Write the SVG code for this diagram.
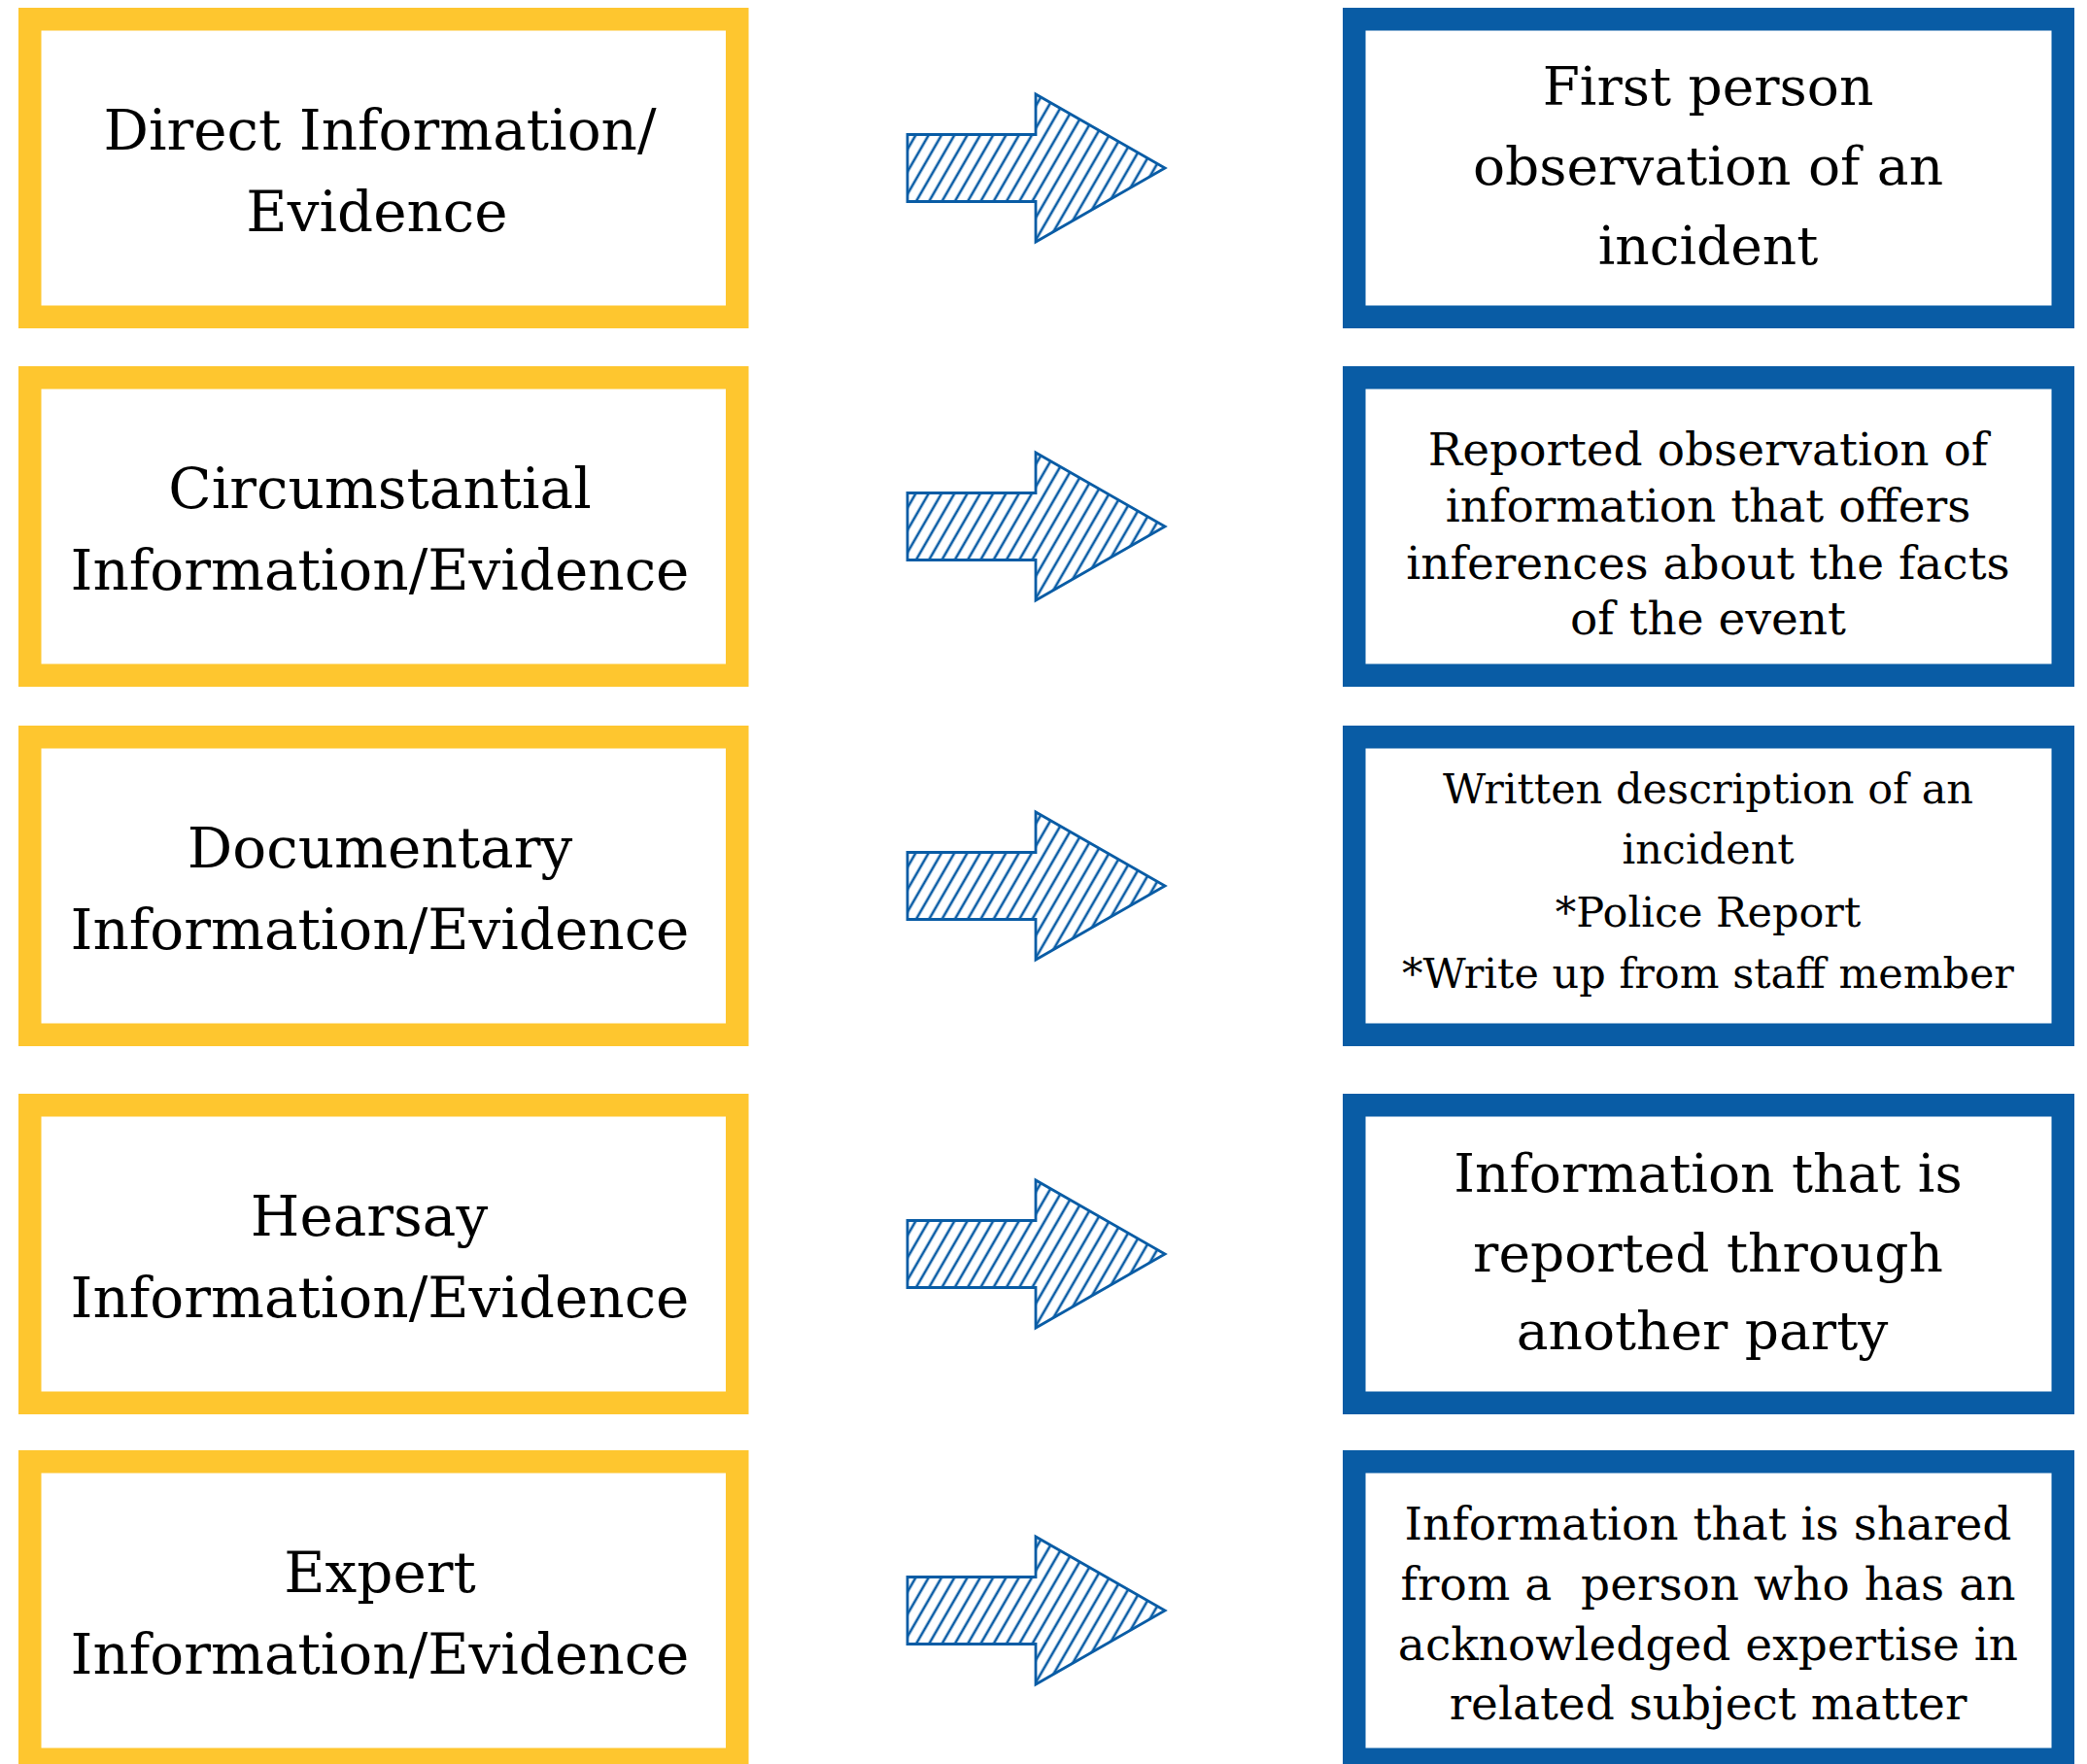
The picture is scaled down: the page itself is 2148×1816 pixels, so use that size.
<svg xmlns="http://www.w3.org/2000/svg" width="2148" height="1816" viewBox="0 0 2148 1816">
<style>
.ybox{fill:#ffffff;stroke:#FEC62F;stroke-width:23.5}
.bbox{fill:#ffffff;stroke:#095CA5;stroke-width:23.5}
.t{font-family:"DejaVu Serif","Liberation Serif",serif;fill:#000000;text-anchor:middle}
.l{font-size:58px}
.r1{font-size:55px}
.r2{font-size:47px}
.r3{font-size:43px}
.arrow{fill:url(#hatch);stroke:#095CA5;stroke-width:2.8;stroke-linejoin:miter}
</style>
<defs>
<pattern id="hatch" width="11.5" height="40" patternUnits="userSpaceOnUse" patternTransform="rotate(30)">
<rect width="11.5" height="40" fill="#ffffff"/>
<line x1="5.75" y1="-5" x2="5.75" y2="45" stroke="#095CA5" stroke-width="2.6"/>
</pattern>
<path id="arr" d="M934,-34.5 H1066 V-76 L1199,0 L1066,76 V34.5 H934 Z"/>
</defs>
<rect width="2148" height="1816" fill="#ffffff"/>

<g id="connectors">
<use href="#arr" class="arrow" transform="translate(0,173)"/>
<use href="#arr" class="arrow" transform="translate(0,542)"/>
<use href="#arr" class="arrow" transform="translate(0,912)"/>
<use href="#arr" class="arrow" transform="translate(0,1291)"/>
<use href="#arr" class="arrow" transform="translate(0,1658)"/>
</g>

<g id="direct">
<rect class="ybox" x="30.75" y="19.75" width="728" height="306.5"/>
<text class="t l" x="391" y="154">Direct Information/</text>
<text class="t l" x="388" y="238">Evidence</text>
</g>
<g id="circumstantial">
<rect class="ybox" x="30.75" y="388.75" width="728" height="306.5"/>
<text class="t l" x="391" y="523">Circumstantial</text>
<text class="t l" x="391" y="607">Information/Evidence</text>
</g>
<g id="documentary">
<rect class="ybox" x="30.75" y="758.75" width="728" height="306.5"/>
<text class="t l" x="391" y="893">Documentary</text>
<text class="t l" x="391" y="977">Information/Evidence</text>
</g>
<g id="hearsay">
<rect class="ybox" x="30.75" y="1137.75" width="728" height="306.5"/>
<text class="t l" x="380" y="1272">Hearsay</text>
<text class="t l" x="391" y="1356">Information/Evidence</text>
</g>
<g id="expert">
<rect class="ybox" x="30.75" y="1504.75" width="728" height="306.5"/>
<text class="t l" x="391" y="1639">Expert</text>
<text class="t l" x="391" y="1723">Information/Evidence</text>
</g>

<g id="def-direct">
<rect class="bbox" x="1393.75" y="19.75" width="729.5" height="306.5"/>
<text class="t r1" x="1758" y="108">First person</text>
<text class="t r1" x="1758" y="190">observation of an</text>
<text class="t r1" x="1758" y="272">incident</text>
</g>
<g id="def-circumstantial">
<rect class="bbox" x="1393.75" y="388.75" width="729.5" height="306.5"/>
<text class="t r2" x="1758" y="479">Reported observation of</text>
<text class="t r2" x="1758" y="537">information that offers</text>
<text class="t r2" x="1758" y="596">inferences about the facts</text>
<text class="t r2" x="1758" y="653">of the event</text>
</g>
<g id="def-documentary">
<rect class="bbox" x="1393.75" y="758.75" width="729.5" height="306.5"/>
<text class="t r3" x="1758" y="827">Written description of an</text>
<text class="t r3" x="1758" y="889">incident</text>
<text class="t r3" x="1758" y="954">*Police Report</text>
<text class="t r3" x="1758" y="1017">*Write up from staff member</text>
</g>
<g id="def-hearsay">
<rect class="bbox" x="1393.75" y="1137.75" width="729.5" height="306.5"/>
<text class="t r1" x="1758" y="1227">Information that is</text>
<text class="t r1" x="1758" y="1309">reported through</text>
<text class="t r1" x="1752" y="1389">another party</text>
</g>
<g id="def-expert">
<rect class="bbox" x="1393.75" y="1504.75" width="729.5" height="306.5"/>
<text class="t r2" x="1758" y="1585">Information that is shared</text>
<text class="t r2" x="1758" y="1647" xml:space="preserve">from a  person who has an</text>
<text class="t r2" x="1758" y="1709">acknowledged expertise in</text>
<text class="t r2" x="1758" y="1770">related subject matter</text>
</g>
</svg>
